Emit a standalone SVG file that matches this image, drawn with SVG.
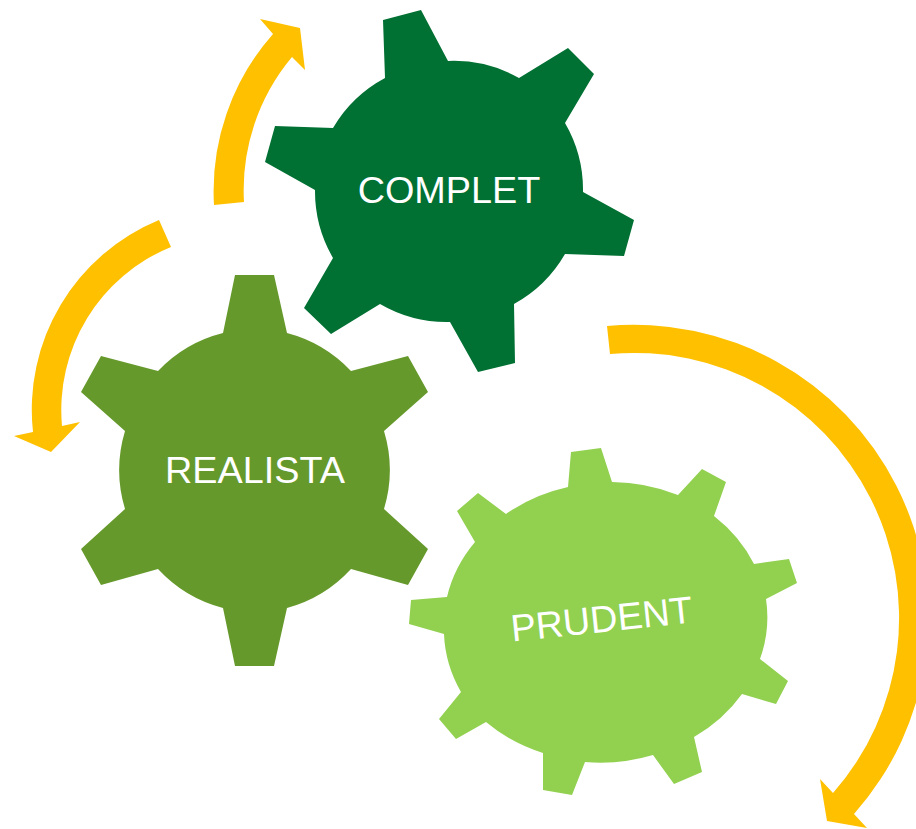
<svg xmlns="http://www.w3.org/2000/svg" width="916" height="829" viewBox="0 0 916 829">
<style>
.t{font-family:"Liberation Sans",Arial,sans-serif;font-size:37.8px;fill:#fff;text-anchor:middle}
.a{fill:#ffc000}
</style>
<rect width="916" height="829" fill="#fff"/>
<g id="connectors">
<path class="a" d="M214 205A237 237 0 0 1 273 34L260 19L300 28L305 70L292 57A207 207 0 0 0 244 202Z"/>
<path class="a" d="M159 220L171 247A176 176 0 0 0 62 426L80 422L51 452L14 436L33 432A205 205 0 0 1 159 220Z"/>
<path class="a" d="M607 326A294 294 0 0 1 854 814L867 828L827 821L820 779L833 793A265 265 0 0 0 610 354Z"/>
</g>
<g id="complet">
<path fill="#007033" d="M383 20L421 10L448 61A133 133 0 0 1 519 78L568 48L594 74L565 123A133 133 0 0 1 583 192L634 220L624 256L565 254A133 133 0 0 1 514 304L515 363L478 372L450 322A133 133 0 0 1 380 304L331 334L304 308L333 258A133 133 0 0 1 315 190L265 162L275 126L333 128A133 133 0 0 1 385 78Z"/>
<text class="t" x="449" y="203">COMPLET</text>
</g>
<g id="realista">
<path fill="#66992b" d="M223 333L235 275L274 275L287 333A135 135 0 0 1 351 371L408 356L428 392L384 431A135 135 0 0 1 384 509L428 549L408 585L351 569A135 135 0 0 1 287 608L274 666L235 666L223 608A135 135 0 0 1 158 569L101 585L81 549L125 509A135 135 0 0 1 125 431L81 392L101 356L158 371A135 135 0 0 1 223 333Z"/>
<text class="t" x="255" y="483">REALISTA</text>
</g>
<g id="prudent">
<path fill="#92d050" d="M568 487L571 452L601 448L612 482A161 140 0 0 1 678 495L702 469L726 482L714 516A161 140 0 0 1 754 564L789 559L797 583L766 599A161 140 0 0 1 760 659L788 681L776 704L742 694A161 140 0 0 1 694 737L702 772L674 784L653 755A161 140 0 0 1 585 762L572 795L543 790L543 753A161 140 0 0 1 486 722L456 739L439 719L461 692A161 140 0 0 1 444 634L409 624L411 600L447 597A161 140 0 0 1 475 542L457 511L478 493L506 514A161 140 0 0 1 568 487Z"/>
<text class="t" x="603" y="632" transform="rotate(-6 603 632)">PRUDENT</text>
</g>
</svg>
